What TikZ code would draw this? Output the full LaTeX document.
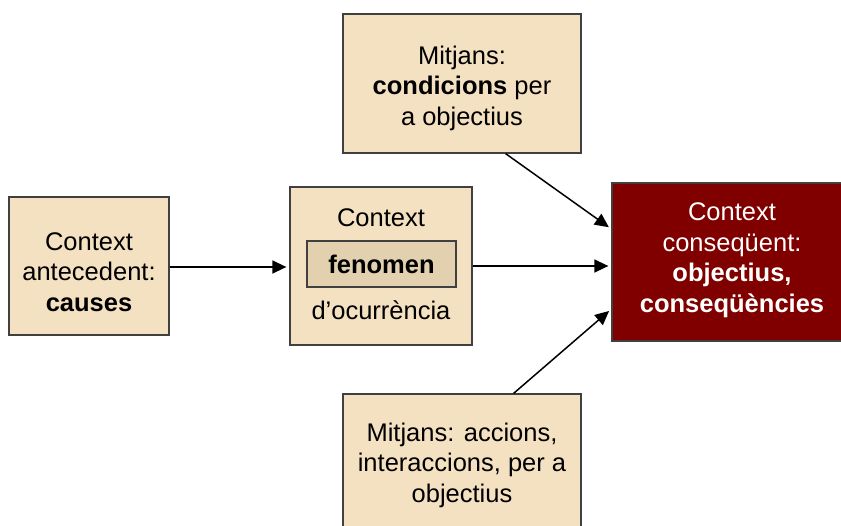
\documentclass[tikz,border=0pt]{standalone}
\usepackage{fontspec}
\setmainfont{Liberation Sans}
\usetikzlibrary{arrows.meta,calc}
\definecolor{beige}{HTML}{F4E1C1}
\definecolor{beigedark}{HTML}{E2D0AE}
\definecolor{darkred}{HTML}{800000}
\definecolor{edge}{HTML}{404040}
\tikzset{
  box/.style={draw=edge, line width=1.3pt, fill=beige, rectangle, inner sep=0pt, align=center,
    font=\fontsize{25.5}{30.5}\selectfont, text=black},
  lbl/.style={inner sep=0pt, align=center, font=\fontsize{25.5}{30.5}\selectfont},
  conn/.style={line width=1.5pt, -{Triangle[length=14pt,width=13pt]}, shorten >=3pt}
}
\begin{document}
\begin{tikzpicture}[x=1pt,y=-1pt]
\useasboundingbox (0,0) rectangle (841,525);
\node[box, minimum width=160pt, minimum height=138pt] (ante) at (89,266) {};
\node[lbl] (antet) at (89,272) {Context\\antecedent:\\\textbf{causes}};
\node[box, minimum width=182pt, minimum height=158pt] (fen) at (381,266) {};
\node[lbl] (fenA) at (381,218) {Context};
\node[box, fill=beigedark, minimum width=149pt, minimum height=46pt] (fenin) at (381.5,264) {\textbf{fenomen}};
\node[lbl] (fenB) at (381,310) {d’ocurrència};
\node[box, minimum width=238pt, minimum height=139pt] (cond) at (462,83.5) {};
\node[lbl] (condt) at (462,88) {Mitjans:\\\textbf{condicions} per\\a objectius};
\node[box, fill=darkred, minimum width=232pt, minimum height=158pt] (cons) at (728,262) {};
\node[lbl, text=white] (const) at (732,260) {Context\\conseqüent:\\\textbf{objectius,}\\\textbf{conseqüències}};
\node[box, minimum width=238pt, minimum height=140pt] (acc) at (462,464) {};
\node[lbl] (acct) at (462,465) {Mitjans: accions,\\interaccions, per a\\objectius};
\draw[conn] (ante.east |- 0,267) -- (fen.west |- 0,267);
\draw[conn] (fen.east |- 0,266) -- (cons.west |- 0,266);
\draw[conn] ($(cond.south east)+(-76,0)$) -- ($(cons.west)+(0,-33)$);
\draw[conn] ($(acc.north east)+(-68,0)$) -- ($(cons.west)+(0,47)$);
\end{tikzpicture}
\end{document}
